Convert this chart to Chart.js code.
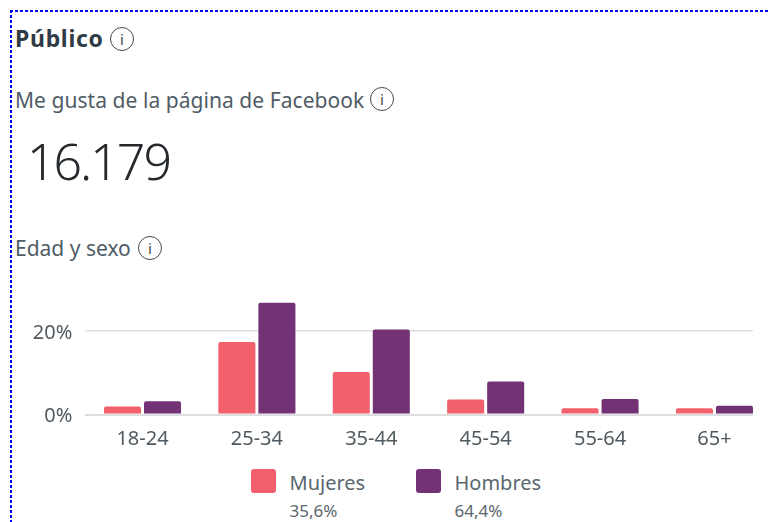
<!DOCTYPE html>
<html>
<head>
<meta charset="utf-8">
<title>Público</title>
<script src="https://cdn.jsdelivr.net/npm/chart.js@4"></script>
<style>
    html, body { margin: 0; padding: 0; background: #fff; }
    body { position: relative; width: 770px; height: 522px; overflow: hidden; font-family: "Noto Sans", sans-serif; }
    .abs { position: absolute; white-space: nowrap; line-height: 1; }
    .dotsTop { position: absolute; left: 10px; top: 10px; width: 760px; height: 2px; background: repeating-linear-gradient(90deg, #0000ff 0 3px, transparent 3px 5px); }
    .dotsLeft { position: absolute; left: 10px; top: 10px; width: 2px; height: 512px; background: repeating-linear-gradient(180deg, #0000ff 0 3px, transparent 3px 5px); }
    .info { position: absolute; width: 22px; height: 22px; border: 1.5px solid #3f4b53; border-radius: 50%; color: #3f4b53; font-size: 15px; line-height: 22px; text-align: center; font-family: "Noto Sans", sans-serif; }
    .swatch { position: absolute; width: 25px; height: 24px; border-radius: 3px; }
    #chartWrap { position: absolute; left: 0; top: 280px; }
</style>
</head>
<body>
<div class="dotsTop"></div>
<div class="dotsLeft"></div>

<div class="abs" style="left:15px;top:27px;font-size:23px;font-weight:700;letter-spacing:0.7px;color:#2f3b45">Público</div>
<div class="info" style="left:110px;top:27px">i</div>
<div class="abs" style="left:15px;top:90px;font-size:21px;letter-spacing:0.05px;color:#505c66">Me gusta de la página de Facebook</div>
<div class="info" style="left:370px;top:87px">i</div>
<div class="abs" style="left:27px;top:136px;font-size:50px;font-weight:300;letter-spacing:-2px;color:#25292d">16.179</div>
<div class="abs" style="left:15px;top:238px;font-size:21px;color:#505c66">Edad y sexo</div>
<div class="info" style="left:138px;top:236px">i</div>

<div id="chartWrap"><canvas id="myChart" width="770" height="180"></canvas></div>
<div id="legendBox"></div>

<script>
const ageGroups = ['18-24', '25-34', '35-44', '45-54', '55-64', '65+'];
const mujeres = [1.9, 17.4, 10.2, 3.6, 1.5, 1.5];
const hombres = [3.2, 26.8, 20.4, 7.9, 3.7, 2.1];
const yTicks = [0, 20];
const legendNames = ['Mujeres', 'Hombres'];
const legendShares = ['35,6%', '64,4%'];
const legendLeft = [251, 416];
const colors = ['#f2606b', '#733176'];

function toPoints(values) {
    return values.map((v, i) => ({ x: i, y: v }));
}

// the original axis is cut on the right, so x runs linear to stop short of the last half category
new Chart(document.getElementById('myChart'), {
    type: 'bar',
    data: {
        datasets: [
            { label: legendNames[0], data: toPoints(mujeres), backgroundColor: colors[0] },
            { label: legendNames[1], data: toPoints(hombres), backgroundColor: colors[1] }
        ]
    },
    options: {
        responsive: false,
        animation: false,
        layout: { padding: { top: 9.5, right: 17, left: 0, bottom: 0 } },
        datasets: { bar: { categoryPercentage: 0.7, barPercentage: 0.925, borderRadius: { topLeft: 2, topRight: 2 } } },
        plugins: { legend: { display: false }, tooltip: { enabled: false } },
        scales: {
            x: {
                type: 'linear',
                offset: false,
                min: -0.5,
                max: 5.337,
                grid: { display: false },
                border: { display: false },
                afterBuildTicks: scale => { scale.ticks = ageGroups.map((_, i) => ({ value: i })); },
                afterFit: scale => {
                    scale.height = 45.5;
                    scale.paddingLeft = 0;
                    scale.paddingRight = 0;
                },
                ticks: {
                    autoSkip: false,
                    maxRotation: 0,
                    padding: 5,
                    color: '#505a60',
                    font: { family: '"Noto Sans"', size: 20 },
                    callback: value => ageGroups[value]
                }
            },
            y: {
                min: 0,
                max: 30,
                border: { display: false },
                grid: {
                    color: '#dedee0',
                    lineWidth: ctx => ctx.tick.value === 0 ? 2 : 1.5,
                    drawTicks: false
                },
                afterBuildTicks: scale => { scale.ticks = yTicks.map(v => ({ value: v })); },
                afterFit: scale => {
                    scale.width = 85.3;
                    scale.paddingTop = 0;
                    scale.paddingBottom = 0;
                },
                ticks: {
                    padding: 13,
                    labelOffset: 2,
                    color: '#505a60',
                    font: { family: '"Noto Sans"', size: 20 },
                    callback: value => value + '%'
                }
            }
        }
    }
});

document.getElementById('legendBox').innerHTML = legendNames.map((name, i) => `
    <div class="swatch" style="left:${legendLeft[i]}px;top:469px;background:${colors[i]}"></div>
    <div class="abs" style="left:${legendLeft[i] + 38.5}px;top:473px;font-size:20px;color:#5a666e">${name}</div>
    <div class="abs" style="left:${legendLeft[i] + 38.5}px;top:502px;font-size:17px;color:#5a666e">${legendShares[i]}</div>
`).join('');
</script>
</body>
</html>
